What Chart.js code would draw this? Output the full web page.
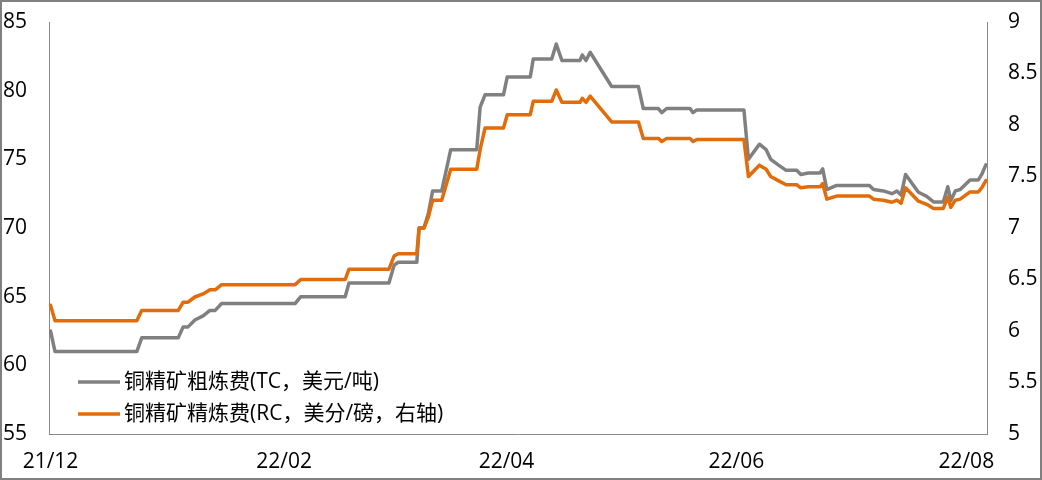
<!DOCTYPE html>
<html><head><meta charset="utf-8">
<script src="https://cdn.jsdelivr.net/npm/chart.js@4.4.1/dist/chart.umd.min.js"></script>
<style>html,body{margin:0;padding:0;background:#fff;}canvas{display:block;}</style>
</head><body>
<canvas id="c" width="1042" height="480"></canvas>
<script>
// days since 2021-12-01
const days = [0,1.2,22.9,24.2,33.9,35.2,36.5,38.3,40.5,42.3,43.7,45.4,64.9,66.4,78.2,79.2,89.8,91.2,92.3,97.2,97.8,99.1,100.3,101.4,103.8,106.2,113.1,114.0,115.3,120.2,121.2,127.3,128.1,133.0,134.2,135.7,140.5,141.1,142.1,143.2,148.9,156.0,157.3,161.3,162.2,163.5,169.7,170.5,171.5,184.0,185.2,188.1,189.9,191.1,193.1,195.2,198.0,199.1,201.1,204.2,204.9,206.0,208.6,217.3,218.4,221.0,223.3,224.6,225.7,226.9,230.3,232.5,234.3,236.9,238.1,238.9,240.1,241.4,244.0,246.2,247.1,248.2];
const tcValues = [62.5,61.0,61.0,62.0,62.0,62.8,62.8,63.3,63.6,64.0,64.0,64.5,64.5,65.0,65.0,66.0,66.0,67.3,67.5,67.5,70.0,70.0,71.1,72.7,72.7,75.7,75.7,78.8,79.7,79.7,81.0,81.0,82.3,82.3,83.4,82.2,82.2,82.6,82.2,82.8,80.3,80.3,78.7,78.7,78.4,78.7,78.7,78.4,78.6,78.6,75.0,76.1,75.7,75.0,74.6,74.2,74.2,73.9,74.0,74.0,74.3,72.8,73.1,73.1,72.8,72.7,72.5,72.7,72.4,73.9,72.6,72.3,71.9,71.9,73.0,72.0,72.7,72.8,73.5,73.5,73.9,74.6];
const rcValues = [6.25,6.10,6.10,6.20,6.20,6.28,6.28,6.33,6.36,6.40,6.40,6.45,6.45,6.50,6.50,6.60,6.60,6.73,6.75,6.75,7.00,7.00,7.11,7.27,7.27,7.57,7.57,7.76,7.97,7.97,8.10,8.10,8.23,8.23,8.34,8.22,8.22,8.26,8.22,8.28,8.03,8.03,7.87,7.87,7.84,7.87,7.87,7.84,7.86,7.86,7.50,7.61,7.57,7.50,7.46,7.42,7.42,7.39,7.40,7.40,7.43,7.28,7.31,7.31,7.28,7.27,7.25,7.27,7.24,7.39,7.26,7.23,7.19,7.19,7.30,7.20,7.27,7.28,7.35,7.35,7.39,7.46];
const tickDays = [0, 62, 121, 182, 243];
const tickLabels = ['21/12', '22/02', '22/04', '22/06', '22/08'];
const seriesNames = ['铜精矿粗炼费(TC，美元/吨)', '铜精矿精炼费(RC，美分/磅，右轴)'];
const seriesColors = ['#808080', '#E36C0A'];

const tickFont = {family: '"Open Sans", "Noto Sans CJK SC", sans-serif', size: 21};
const axisColor = '#898989';

const framePlugin = {
  id: 'frame',
  beforeDraw(chart) {
    const ctx = chart.ctx;
    ctx.save();
    ctx.fillStyle = '#fff';
    ctx.fillRect(0, 0, chart.width, chart.height);
    ctx.restore();
  },
  afterDraw(chart) {
    const ctx = chart.ctx;
    const area = chart.chartArea;
    ctx.save();
    // legend inside chart area, bottom-left
    ctx.font = '21px "Open Sans", "Noto Sans CJK SC", sans-serif';
    ctx.textBaseline = 'middle';
    ctx.textAlign = 'left';
    chart.data.datasets.forEach((ds, i) => {
      const y = area.bottom - 52 + i * 32;
      const x0 = area.left + 29;
      ctx.strokeStyle = ds.borderColor;
      ctx.lineWidth = 3.5;
      ctx.lineCap = 'butt';
      ctx.beginPath();
      ctx.moveTo(x0, y);
      ctx.lineTo(x0 + 42, y);
      ctx.stroke();
      ctx.fillStyle = '#000';
      ctx.fillText(ds.label, x0 + 46, y);
    });
    // outer frame
    ctx.strokeStyle = '#808080';
    ctx.lineWidth = 2;
    ctx.strokeRect(1, 1, chart.width - 2, chart.height - 2);
    ctx.restore();
  }
};

function fixVertical(width) {
  return s => { s.width = width; s.paddingTop = 0; s.paddingBottom = 0; };
}

new Chart(document.getElementById('c'), {
  type: 'line',
  data: {
    datasets: [
      {
        label: seriesNames[0],
        data: days.map((d, i) => ({x: d, y: tcValues[i]})),
        borderColor: seriesColors[0],
        backgroundColor: seriesColors[0],
        borderWidth: 3.5,
        pointRadius: 0,
        tension: 0,
        borderJoinStyle: 'round',
        borderCapStyle: 'round',
        yAxisID: 'y',
        order: 1
      },
      {
        label: seriesNames[1],
        data: days.map((d, i) => ({x: d, y: rcValues[i]})),
        borderColor: seriesColors[1],
        backgroundColor: seriesColors[1],
        borderWidth: 3.5,
        pointRadius: 0,
        tension: 0,
        borderJoinStyle: 'round',
        borderCapStyle: 'round',
        yAxisID: 'y1',
        order: 0
      }
    ]
  },
  options: {
    responsive: false,
    animation: false,
    events: [],
    layout: {padding: {top: 22, left: 0, right: 0, bottom: 0}},
    plugins: {legend: {display: false}, tooltip: {enabled: false}},
    scales: {
      x: {
        type: 'linear',
        min: -0.4,
        max: 248.5,
        afterBuildTicks: s => { s.ticks = tickDays.map(v => ({value: v})); },
        afterFit: s => { s.height = 46; s.paddingLeft = 0; s.paddingRight = 0; },
        grid: {display: false, drawTicks: false},
        border: {display: true, color: axisColor, width: 1},
        ticks: {
          autoSkip: false, maxRotation: 0, minRotation: 0, padding: 15,
          color: '#000', font: tickFont,
          callback: (v, i) => tickLabels[i]
        }
      },
      y: {
        position: 'left',
        min: 55, max: 85,
        ticks: {stepSize: 5, padding: 22, color: '#000', font: tickFont, callback: v => String(v)},
        afterFit: fixVertical(49),
        grid: {display: false, drawTicks: false},
        border: {display: true, color: axisColor, width: 1}
      },
      y1: {
        position: 'right',
        min: 5, max: 9,
        ticks: {stepSize: 0.5, padding: 21, color: '#000', font: tickFont, callback: v => String(v)},
        afterFit: fixVertical(55),
        grid: {display: false, drawTicks: false},
        border: {display: true, color: axisColor, width: 1}
      }
    }
  },
  plugins: [framePlugin]
});
</script>
</body></html>
